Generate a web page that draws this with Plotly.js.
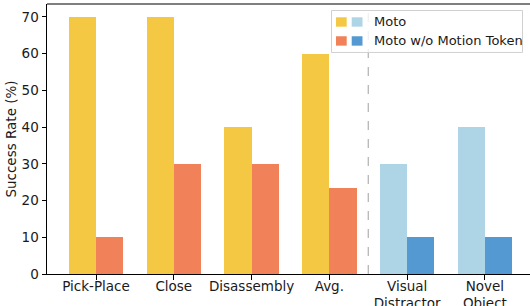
<!DOCTYPE html>
<html>
<head>
<meta charset="utf-8">
<script src="https://cdn.plot.ly/plotly-3.0.1.min.js"></script>
<style>html,body{margin:0;padding:0;background:#fff;}#chart{width:530px;height:306px;}</style>
</head>
<body>
<div id="chart"></div>
<script>
const categories = ["Pick-Place", "Close", "Disassembly", "Avg.", "Visual<br>Distractor", "Novel<br>Object"];
const motoValues = [70, 70, 40, 60, 30, 40];
const noTokenValues = [10, 30, 30, 23.33, 10, 10];
const motoColors = ["#F4C842", "#F4C842", "#F4C842", "#F4C842", "#AED5E6", "#AED5E6"];
const noTokenColors = ["#F08159", "#F08159", "#F08159", "#F08159", "#5499D1", "#5499D1"];
const seriesNames = ["Moto", "Moto w/o Motion Token"];
const yTicks = [0, 10, 20, 30, 40, 50, 60, 70];

const L = 47, T = 4, W = 483, H = 270.3;
const fx = px => (px - L) / W;
const fy = py => (T + H - py) / H;
const FONT = "DejaVu Sans, sans-serif";
const TXT = "#1a1a1a";

const traces = [
  {type: "bar", x: categories, y: motoValues, name: seriesNames[0], offset: -0.35, width: 0.35,
   marker: {color: motoColors, line: {width: 0}}, showlegend: false, hoverinfo: "skip"},
  {type: "bar", x: categories, y: noTokenValues, name: seriesNames[1], offset: 0, width: 0.35,
   marker: {color: noTokenColors, line: {width: 0}}, showlegend: false, hoverinfo: "skip"}
];

const shapes = [
  {type: "line", xref: "x", yref: "paper", x0: 3.5, x1: 3.5, y0: 0, y1: 1,
   line: {color: "#a0a0a0", width: 1, dash: "dash"}, layer: "below"},
  {type: "line", xref: "paper", yref: "paper", x0: 0, x1: 1, y0: 1, y1: 1,
   line: {color: "#000", width: 1}},
  {type: "rect", xref: "paper", yref: "paper", x0: fx(331.5), x1: fx(522.5), y0: fy(52.5), y1: fy(10.5),
   line: {color: "#d0d0d0", width: 1}, fillcolor: "rgba(255,255,255,0.8)"},
  {type: "rect", xref: "paper", yref: "paper", x0: fx(336), x1: fx(346.7), y0: fy(26.7), y1: fy(17.3),
   line: {width: 0}, fillcolor: motoColors[0]},
  {type: "rect", xref: "paper", yref: "paper", x0: fx(351.7), x1: fx(362.5), y0: fy(26.7), y1: fy(17.3),
   line: {width: 0}, fillcolor: motoColors[5]},
  {type: "rect", xref: "paper", yref: "paper", x0: fx(336), x1: fx(346.7), y0: fy(45.7), y1: fy(36.3),
   line: {width: 0}, fillcolor: noTokenColors[0]},
  {type: "rect", xref: "paper", yref: "paper", x0: fx(351.7), x1: fx(362.5), y0: fy(45.7), y1: fy(36.3),
   line: {width: 0}, fillcolor: noTokenColors[5]}
];

const annotations = [
  {xref: "paper", yref: "paper", x: fx(372), y: fy(22), xanchor: "left", yanchor: "middle",
   text: seriesNames[0], showarrow: false, font: {family: FONT, size: 13, color: TXT}},
  {xref: "paper", yref: "paper", x: fx(372), y: fy(41), xanchor: "left", yanchor: "middle",
   text: seriesNames[1], showarrow: false, font: {family: FONT, size: 13, color: TXT}}
];

const layout = {
  width: 530, height: 306,
  margin: {l: L, r: 0, t: T, b: 306 - T - H, pad: 0},
  paper_bgcolor: "#fff", plot_bgcolor: "#fff",
  font: {family: FONT, size: 13.5, color: TXT},
  bargap: 0,
  xaxis: {
    type: "category", range: [-0.63, 5.58], showgrid: false, zeroline: false,
    showline: true, linecolor: "#000", linewidth: 1,
    ticks: "outside", ticklen: 4.5, tickwidth: 1, tickcolor: "#000",
    ticklabelstandoff: -5,
    tickfont: {family: FONT, size: 13.5, color: TXT}
  },
  yaxis: {
    range: [0, 73.5], showgrid: false, zeroline: false,
    showline: true, linecolor: "#000", linewidth: 1,
    ticks: "outside", ticklen: 4.5, tickwidth: 1, tickcolor: "#000",
    tickmode: "array", tickvals: yTicks, ticktext: yTicks.map(String),
    tickfont: {family: FONT, size: 13.5, color: TXT},
    title: {text: "Success Rate (%)", font: {family: FONT, size: 13.5, color: TXT}, standoff: 1}
  },
  shapes: shapes,
  annotations: annotations
};

Plotly.newPlot("chart", traces, layout, {staticPlot: true, displayModeBar: false});
</script>
</body>
</html>
